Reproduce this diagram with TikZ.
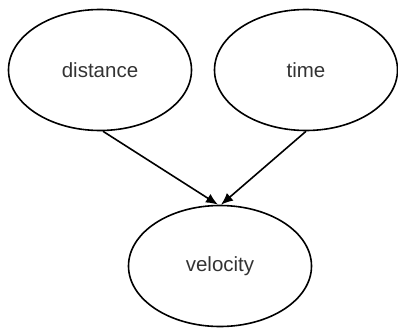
\documentclass[tikz,border=0pt]{standalone}
\usepackage{fontspec}
\setmainfont{Liberation Sans}
\usetikzlibrary{shapes.geometric,arrows.meta}
\begin{document}
\begin{tikzpicture}[x=1pt,y=-1pt,
  ell/.style={draw=black,line width=1.6pt,ellipse,minimum width=183pt,minimum height=121pt,inner sep=0pt,
    font=\fontsize{20.5}{24}\selectfont,text=black!80},
  conn/.style={line width=1.6pt,-{Latex[length=12pt,width=10pt]}}]
\useasboundingbox (0,0) rectangle (398,329);
\node[ell] (d) at (100,70) {distance};
\node[ell] (t) at (306,70) {time};
\node[ell] (v) at (220,266) {velocity};
\coordinate (vl) at ([xshift=-2pt]v.north);
\coordinate (vr) at ([xshift=1pt]v.north);
\draw[conn] ([xshift=3pt]d.south) -- (vl);
\draw[conn] (t.south) -- (vr);
\end{tikzpicture}
\end{document}
